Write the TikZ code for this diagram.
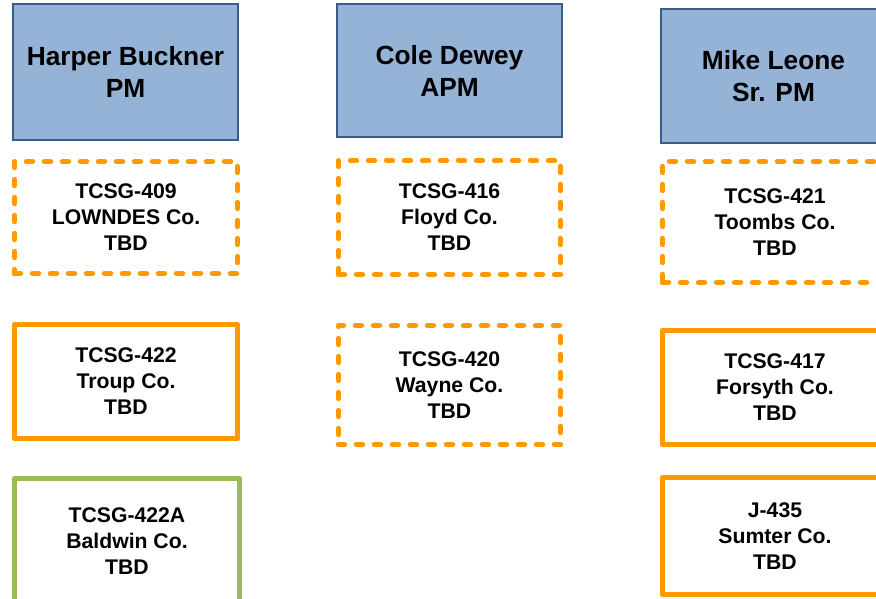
\documentclass[tikz,border=0pt]{standalone}
\usepackage{fontspec}
\setmainfont{Liberation Sans}
\definecolor{mgrfill}{HTML}{95B3D7}
\definecolor{mgrline}{HTML}{385D8A}
\definecolor{jobor}{HTML}{FF9900}
\definecolor{jobgr}{HTML}{9BBB59}

\begin{document}
\begin{tikzpicture}[x=1pt, y=-1pt,
  mgr/.style={draw=mgrline, fill=mgrfill, line width=1.5pt, minimum width=225pt,
    align=center, font=\bfseries\fontsize{26.3}{32}\selectfont},
  proj/.style={draw=jobor, line width=5.5pt, line join=round, minimum width=223pt,
    align=center, font=\bfseries\fontsize{21.2}{26}\selectfont},
  plan/.style={proj, dash pattern=on 6pt off 12pt, line cap=round},
  hold/.style={proj, draw=jobgr}]
\useasboundingbox (0, 0) rectangle (876, 599);
% managers
\node[mgr, minimum height=136pt] (harper) at (125.5, 72) {Harper Buckner\\PM};
\node[mgr, minimum height=133pt] (cole) at (449.5, 70.5) {Cole Dewey\\APM};
\node[mgr, minimum height=134pt] (mike) at (773.5, 76) {Mike Leone\\Sr. PM};
% first column
\node[plan, minimum height=112pt] (t409) at (126, 217.5) {TCSG-409\\LOWNDES Co.\\TBD};
\node[proj, minimum height=114pt] (t422) at (126, 381.5) {TCSG-422\\Troup Co.\\TBD};
\node[hold, minimum width=225pt, minimum height=125pt] (t422a) at (127, 541) {TCSG-422A\\Baldwin Co.\\TBD};
% second column
\node[plan, minimum width=222pt, minimum height=114pt] (t416) at (449.5, 217.5) {TCSG-416\\Floyd Co.\\TBD};
\node[plan, minimum width=222pt, minimum height=119pt] (t420) at (449.5, 385) {TCSG-420\\Wayne Co.\\TBD};
% third column
\node[plan, minimum width=225pt, minimum height=121pt] (t421) at (775, 222) {TCSG-421\\Toombs Co.\\TBD};
\node[proj, minimum width=225pt, minimum height=114pt] (t417) at (775, 387.5) {TCSG-417\\Forsyth Co.\\TBD};
\node[proj, minimum width=225pt, minimum height=117pt] (j435) at (775, 536) {J-435\\Sumter Co.\\TBD};
\end{tikzpicture}
\end{document}
